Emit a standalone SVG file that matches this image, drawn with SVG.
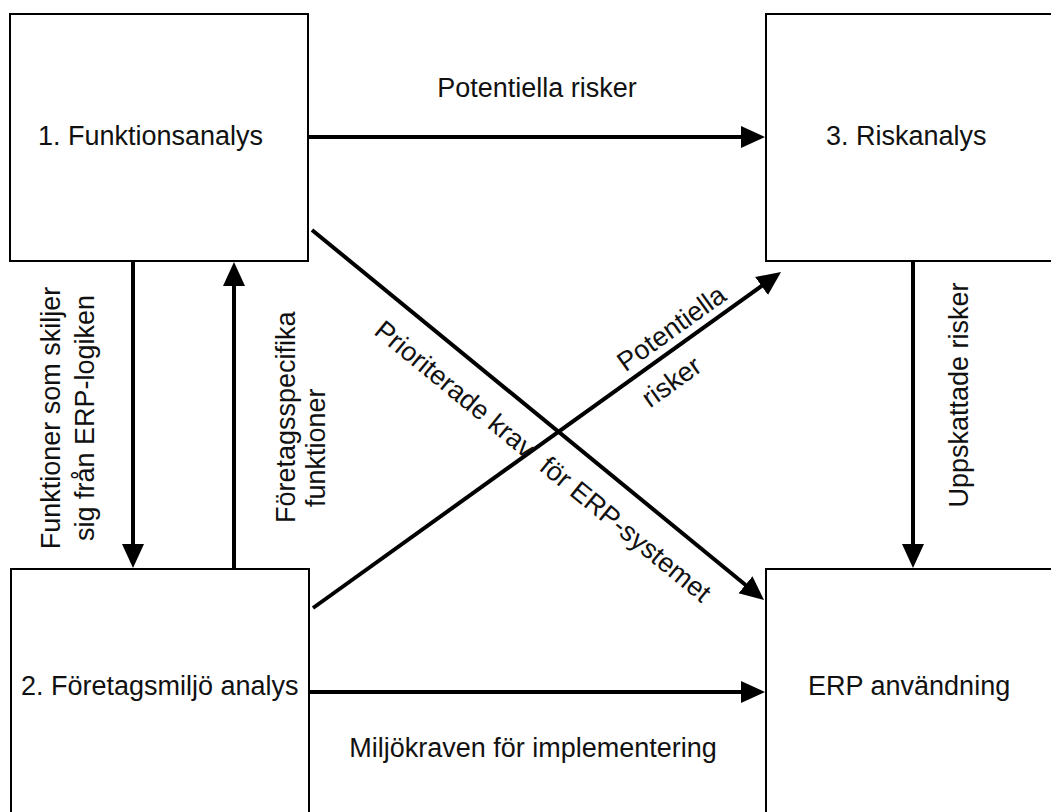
<svg xmlns="http://www.w3.org/2000/svg" width="1051" height="812" viewBox="0 0 1051 812">
<style>
.box{fill:#fff;stroke:#000;stroke-width:2}
.lbl{font-family:"Liberation Sans",Arial,Helvetica,sans-serif;font-size:27px;fill:#111}
.c{text-anchor:middle}
.con{fill:none;stroke:#000;stroke-width:4}
</style>
<defs>
<marker id="ah" markerUnits="userSpaceOnUse" markerWidth="24" markerHeight="24" viewBox="0 0 24 24" refX="14" refY="12" orient="auto">
<path d="M0,1 L24,12 L0,23 z" fill="#000"/>
</marker>
</defs>
<rect width="1051" height="812" fill="#fff"/>
<g id="node-funktionsanalys">
<rect class="box" x="10" y="14" width="298" height="247"/>
<text class="lbl" x="38" y="145">1. Funktionsanalys</text>
</g>
<g id="node-riskanalys">
<rect class="box" x="766" y="14" width="300" height="247"/>
<text class="lbl" x="826" y="145">3. Riskanalys</text>
</g>
<g id="node-foretagsmiljo">
<rect class="box" x="11" y="569" width="298" height="260"/>
<text class="lbl" x="21" y="695">2. Företagsmiljö analys</text>
</g>
<g id="node-erp">
<rect class="box" x="766" y="569" width="300" height="260"/>
<text class="lbl" x="808" y="695">ERP användning</text>
</g>
<g id="connectors">
<path class="con" d="M308,137 L755,137" marker-end="url(#ah)"/>
<path class="con" d="M133,261 L133,558" marker-end="url(#ah)"/>
<path class="con" d="M234,569 L234,272" marker-end="url(#ah)"/>
<path class="con" d="M913,261 L913,558" marker-end="url(#ah)"/>
<path class="con" d="M309,692 L755,692" marker-end="url(#ah)"/>
<path class="con" d="M312,230 L756.3,593.7" marker-end="url(#ah)"/>
<path class="con" d="M313,608 L772.9,277.8" marker-end="url(#ah)"/>
</g>
<g id="labels">
<text class="lbl c" x="537" y="97">Potentiella risker</text>
<text class="lbl c" x="533" y="757">Miljökraven för implementering</text>
<text class="lbl c" transform="translate(60,418) rotate(-90)">Funktioner som skiljer</text>
<text class="lbl c" transform="translate(94,418) rotate(-90)">sig från ERP-logiken</text>
<text class="lbl" transform="translate(295,523) rotate(-90)">Företagsspecifika</text>
<text class="lbl" transform="translate(325,507) rotate(-90)">funktioner</text>
<text class="lbl c" transform="translate(968,395) rotate(-90)">Uppskattade risker</text>
<g transform="translate(372.7,333.3) rotate(39.4)">
<text class="lbl" x="0" y="0">Prioriterade krav</text>
<text class="lbl" x="214" y="0">för ERP-systemet</text>
</g>
<text class="lbl" transform="translate(625.5,372.5) rotate(-35.7)">Potentiella</text>
<text class="lbl" transform="translate(650,408.4) rotate(-35.7)">risker</text>
</g>
</svg>
